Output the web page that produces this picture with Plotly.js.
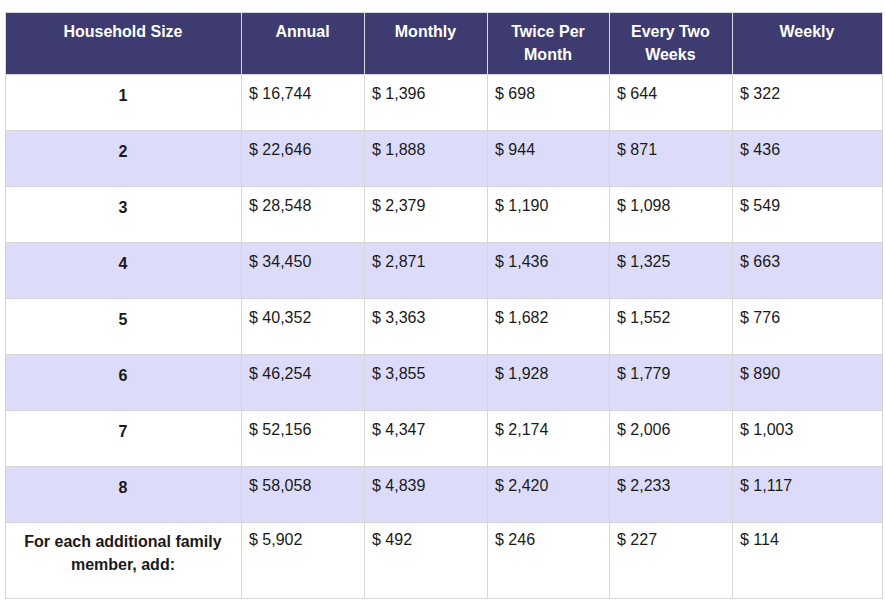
<!DOCTYPE html>
<html><head><meta charset="utf-8">
<script src="https://cdn.plot.ly/plotly-3.0.1.min.js"></script>
<style>html,body{margin:0;padding:0;background:#fff;}#chart{width:885px;height:611px;}</style>
</head><body><div id="chart"></div>
<script>
const headers = ["Household Size", "Annual", "Monthly", "Twice Per<br>Month", "Every Two<br>Weeks", "Weekly"];
const householdSize = ["1", "2", "3", "4", "5", "6", "7", "8", "For each additional family<br>member, add:"];
const annual = [16744, 22646, 28548, 34450, 40352, 46254, 52156, 58058, 5902];
const monthly = [1396, 1888, 2379, 2871, 3363, 3855, 4347, 4839, 492];
const twicePerMonth = [698, 944, 1190, 1436, 1682, 1928, 2174, 2420, 246];
const everyTwoWeeks = [644, 871, 1098, 1325, 1552, 1779, 2006, 2233, 227];
const weekly = [322, 436, 549, 663, 776, 890, 1003, 1117, 114];

const fmt = v => "$ " + v.toLocaleString("en-US");
// last row is taller in the reference: an extra blank line with a larger font gives it room
const sizeCol = householdSize.map((s, i) => "<b>" + s + "</b>" + (i === householdSize.length - 1 ? "<br><span style='font-size:23px'> </span>" : ""));
const cols = [sizeCol, annual.map(fmt), monthly.map(fmt), twicePerMonth.map(fmt), everyTwoWeeks.map(fmt), weekly.map(fmt)];
const rowFill = householdSize.map((_, i) => i % 2 === 0 ? "#ffffff" : "#dcdcfa");

const trace = {
  type: "table",
  columnwidth: [236, 123, 123, 122, 123, 150],
  header: {
    values: headers.map(h => "<b>" + h + "</b>"),
    align: "center",
    height: 62,
    fill: {color: "#3d3b6f"},
    line: {color: "#d8d8e0", width: 1},
    font: {family: "Arial, Liberation Sans, sans-serif", size: 16, color: "#ffffff"}
  },
  cells: {
    values: cols,
    align: ["center", "left", "left", "left", "left", "left"],
    height: 56,
    fill: {color: [rowFill]},
    line: {color: "#d6d6d6", width: 1},
    font: {family: "Arial, Liberation Sans, sans-serif", size: 16, color: "#1a1a1a"}
  }
};

Plotly.newPlot("chart", [trace], {
  width: 885, height: 611,
  margin: {l: 5, r: 3, t: 12, b: 11},
  paper_bgcolor: "#ffffff"
}, {displayModeBar: false, staticPlot: true}).then(gd => {
  // typographic touch-ups: centred multi-line text, looser line spacing, text a little lower in cells
  const top = gd.getBoundingClientRect().top;
  gd.querySelectorAll('.table text.cell-text').forEach(t => {
    const lines = Array.from(t.querySelectorAll('tspan.line'));
    const r = t.getBoundingClientRect();
    const isHeader = (r.top - top) < 74;
    const centred = isHeader || (r.left < 241 && r.right < 241);
    const isLastRow = (r.top - top) > 515;
    if (lines.length > 1) {
      lines.forEach((ln, i) => { if (i > 0) ln.setAttribute('dy', '1.45em'); });
      if (centred) {
        const w = lines.map(ln => ln.getComputedTextLength());
        const W = Math.max.apply(null, w);
        lines.forEach((ln, i) => ln.setAttribute('x', ((W - w[i]) / 2).toFixed(1)));
      }
    }
    t.setAttribute('transform', 'translate(0,' + (isHeader ? 3 : (isLastRow ? 3 : 5)) + ')');
  });
});
</script></body></html>
